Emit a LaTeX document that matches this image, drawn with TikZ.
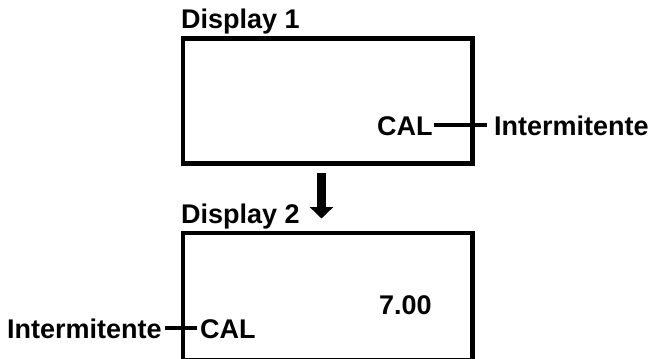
\documentclass[tikz,border=0pt]{standalone}
\usepackage{fontspec}
\setmainfont{Liberation Sans}
\usetikzlibrary{arrows.meta}
\begin{document}
\begin{tikzpicture}[x=1pt,y=-1pt,
  lbl/.style={inner sep=0pt, anchor=base west, font=\bfseries\fontsize{27}{31}\selectfont, text height=19.3pt, text depth=0pt},
  frame/.style={draw=black, line width=4.5pt},
  tick/.style={draw=black, line width=4pt}]
\useasboundingbox (0,0) rectangle (654,359);
\begin{scope}
\clip (0,0) rectangle (654,359);
% boxes
\draw[frame] (183,38.5) rectangle (472.5,163.5);
\draw[frame] (183,233) rectangle (472.5,360.5);
\end{scope}
% titles
\node[lbl] (d1) at (181,28) {Display 1};
\node[lbl] (d2) at (181,223) {Display 2};
% display 1 contents
\node[lbl] (cal1) at (377,135) {CAL};
\node[lbl] (int1) at (494,135) {Intermitente};
\draw[tick] ([xshift=1pt]cal1.east) -- ([xshift=-7pt]int1.west);
% display 2 contents
\node[lbl] (num) at (379,314) {7.00};
\node[lbl] (cal2) at (200,338) {CAL};
\node[lbl] (int2) at (7,338) {Intermitente};
\draw[tick] ([xshift=3pt]int2.east) -- ([xshift=-3pt]cal2.west);
% arrow
\coordinate (a1) at (321.5,173);
\coordinate (a2) at (321.5,218.5);
\draw[line width=9.5pt, -{Triangle[width=23pt,length=11.5pt]}] (a1) -- (a2);
\end{tikzpicture}
\end{document}
